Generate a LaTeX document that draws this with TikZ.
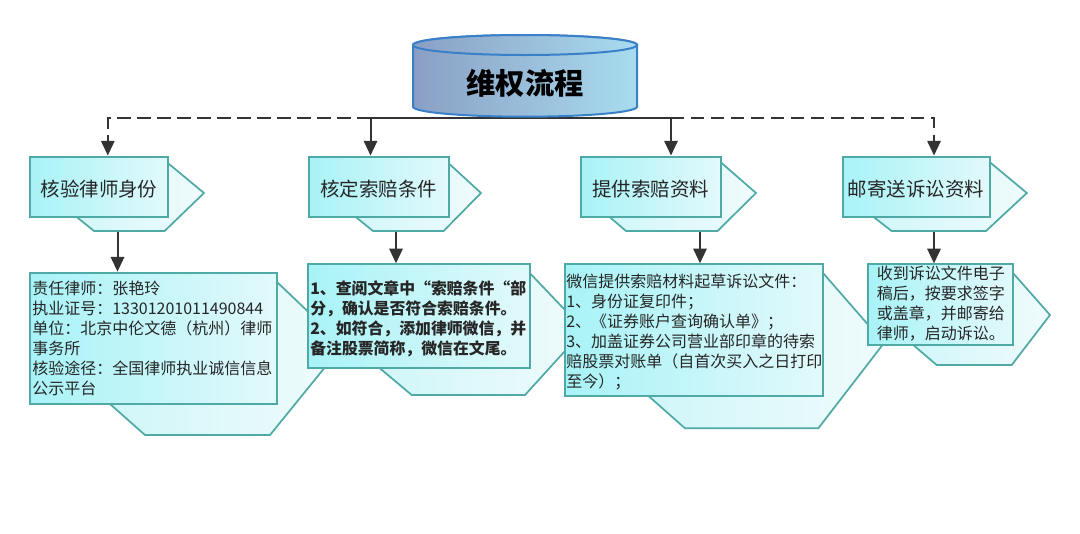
\documentclass[tikz,border=0pt]{standalone}
\usepackage{fontspec}
\newfontfamily\cjk{Noto Sans CJK SC}
\usetikzlibrary{arrows.meta}
\definecolor{bordc}{HTML}{4FAAA6}
\definecolor{boxL}{HTML}{A8F3F7}
\definecolor{boxR}{HTML}{E2F9FB}
\definecolor{hexL}{HTML}{CFF6F8}
\definecolor{hexR}{HTML}{F0FBFC}
\definecolor{arrc}{HTML}{333333}
\definecolor{txtc}{HTML}{262626}
\definecolor{cylL}{HTML}{8A9FC4}
\definecolor{cylR}{HTML}{A8DCEF}
\definecolor{cylB}{HTML}{3A80C8}
\pgfdeclarelayer{bg}
\pgfsetlayers{bg,main}
\begin{document}
\begin{tikzpicture}[x=0.75pt,y=-0.75pt,
  conn/.style={draw=arrc, line width=1.5pt, -{Triangle[width=10pt,length=11pt]}},
  dconn/.style={conn, dash pattern=on 10pt off 5pt},
  rbox/.style={draw=bordc, line width=1.5pt, left color=boxL, right color=boxR, inner sep=0pt},
  hexs/.style={draw=bordc, line width=1.3pt, left color=hexL, right color=hexR},
  lbl/.style={font=\cjk\fontsize{14.6}{17}\selectfont, text=txtc},
  body/.style={font=\cjk\fontsize{12}{15}\selectfont, text=txtc, align=left, inner sep=0pt, anchor=north west},
]
\useasboundingbox (0,0) rectangle (1080,533);

% cylinder
\path[draw=cylB, line width=1.5pt, left color=cylL, right color=cylR]
  (413,45) -- (413,106.7) arc[start angle=180, end angle=360, x radius=84pt, y radius=7.5pt]
  -- (637,45) arc[start angle=0, end angle=180, x radius=84pt, y radius=7.5pt] -- cycle;
\path[draw=cylB, line width=1.5pt, left color=cylL, right color=cylR]
  (525,45) ellipse [x radius=84pt, y radius=7.5pt];
\node[font=\cjk\bfseries\fontsize{22}{26}\selectfont, text=black, minimum width=168pt, minimum height=52.5pt, inner sep=0pt] (cyl) at (525,83) {维权流程};

% back hexagons
\path[hexs] (60,162) -- (163,159) -- (204,193) -- (164.6,231) -- (94,231) -- (62,205) -- cycle;
\path[hexs] (340,162) -- (444,159) -- (481,193) -- (443.6,231) -- (373,231) -- (341,205) -- cycle;
\path[hexs] (600,162) -- (717,159) -- (756,193) -- (717.5,231) -- (626,231) -- (599,208) -- cycle;
\path[hexs] (862,162) -- (986,159) -- (1026.8,193) -- (986,231) -- (891.6,231) -- (862,208) -- cycle;
\path[hexs] (95,276) -- (270.7,276) -- (343,345) -- (270,435) -- (145,435) -- (95,390.7) -- cycle;
\path[hexs] (370,268) -- (525,268) -- (584,330) -- (525,395) -- (411.7,395) -- (370,360) -- cycle;
\path[hexs] (635,268) -- (818.7,268) -- (884,343) -- (818.3,428.3) -- (685,428.3) -- (635,384) -- cycle;
\path[hexs] (905,268) -- (1008.6,268) -- (1050,315) -- (1011.7,365) -- (936.7,365) -- (905,338) -- cycle;

% top boxes
\node[rbox, minimum width=103.5pt, minimum height=45pt] (T1) at (99,186.5) {};
\node[rbox, minimum width=105pt, minimum height=45pt] (T2) at (378.6,186.5) {};
\node[rbox, minimum width=105pt, minimum height=45pt] (T3) at (650.7,186.5) {};
\node[rbox, minimum width=110.25pt, minimum height=45pt] (T4) at (916.1,186.5) {};
\node[lbl] (T1t) at (99,189) {核验律师身份};
\node[lbl] (T2t) at (378.6,189) {核定索赔条件};
\node[lbl] (T3t) at (650.7,189) {提供索赔资料};
\node[lbl] (T4t) at (916.1,189) {邮寄送诉讼资料};

% lower boxes
\node[rbox, minimum width=185pt, minimum height=98.5pt] (L1) at (153.3,338.3) {};
\node[rbox, minimum width=166.3pt, minimum height=78pt] (L2) at (419.2,316.3) {};
\node[rbox, minimum width=193.7pt, minimum height=98.6pt] (L3) at (694.2,330) {};
\node[rbox, minimum width=108.75pt, minimum height=60.5pt] (L4) at (940.8,304.7) {};

\node[body] (L1t) at (32,281) {责任律师：张艳玲\\执业证号：13301201011490844\\单位：北京中伦文德（杭州）律师\\事务所\\核验途径：全国律师执业诚信信息\\公示平台};
\node[body, font=\cjk\bfseries\fontsize{11.9}{15}\selectfont] (L2t) at (310,280) {1、查阅文章中“索赔条件“部\\分，确认是否符合索赔条件。\\2、如符合，添加律师微信，并\\备注股票简称，微信在文尾。};
\node[body] (L3t) at (566,274) {微信提供索赔材料起草诉讼文件：\\1、身份证复印件；\\2、《证券账户查询确认单》；\\3、加盖证券公司营业部印章的待索\\赔股票对账单（自首次买入之日打印\\至今）；};
\node[body] (L4t) at (876.5,266) {收到诉讼文件电子\\稿后，按要求签字\\或盖章，并邮寄给\\律师，启动诉讼。};

% connectors
\coordinate (ax1) at (107.8,118);
\coordinate (ax2) at (370.5,118);
\coordinate (ax3) at (671,118);
\coordinate (ax4) at (934,118);
\coordinate (d1) at (117.5,240);
\coordinate (d2) at (396,240);
\coordinate (d3) at (700,240);
\coordinate (d4) at (934,240);
\begin{pgfonlayer}{bg}
\fill[white] (0,0) rectangle (1080,533);
\draw[conn] (cyl.south) -| (T2.north -| ax2);
\draw[conn] (cyl.south) -| (T3.north -| ax3);
\draw[dconn] (ax2) -| (T1.north -| ax1);
\draw[dconn] (ax3) -| (T4.north -| ax4);
\draw[conn] (T1.south -| d1) -- (L1.north -| d1);
\draw[conn] (T2.south -| d2) -- (L2.north -| d2);
\draw[conn] (T3.south -| d3) -- (L3.north -| d3);
\draw[conn] (T4.south -| d4) -- (L4.north -| d4);
\end{pgfonlayer}
\end{tikzpicture}
\end{document}
